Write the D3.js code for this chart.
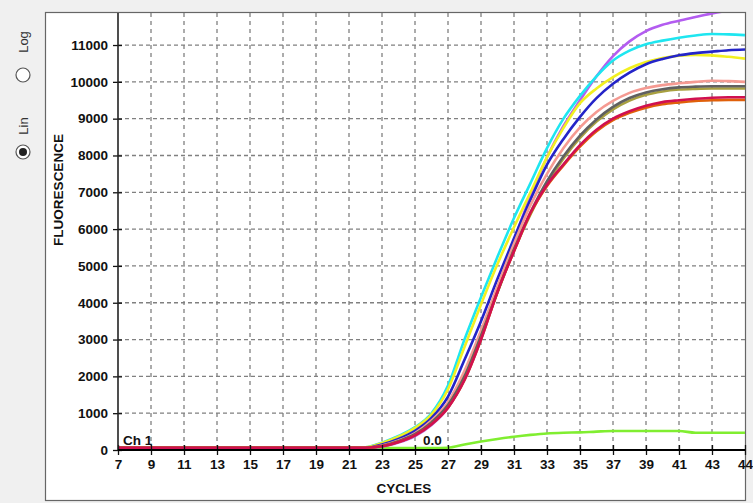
<!DOCTYPE html>
<html>
<head>
<meta charset="utf-8">
<script src="https://cdn.jsdelivr.net/npm/d3@7"></script>
<style>
  html, body { margin: 0; padding: 0; background: #f0f0f0; }
  svg { display: block; font-family: "Liberation Sans", Arial, sans-serif; }
</style>
</head>
<body>
<div id="chart"></div>
<script>
// cycles shown on the x axis (plot runs to the last one)
const cycles = d3.range(7, 46);
const xTickValues = [7, 9, 11, 13, 15, 17, 19, 21, 23, 25, 27, 29, 31, 33, 35, 37, 39, 41, 43, 45];
const xTickLabels = ["7", "9", "11", "13", "15", "17", "19", "21", "23", "25", "27", "29", "31", "33", "35", "37", "39", "41", "43", "44"];
const yTickValues = [0, 1000, 2000, 3000, 4000, 5000, 6000, 7000, 8000, 9000, 10000, 11000];

// fluorescence per cycle, cycles 7..45
const green   = [50,50,50,50,50,50,50,50,50,50,50,50,50,50,50, 50,50,50,50,50,60,150,230,300,360,410,450,470,480,500,515,515,515,515,515,470,470,470,470];
const purple  = [60,60,60,60,60,60,60,60,60,60,60,60,60,60,60, 60,90,200,380,680,1150,1950,3100,4400,5700,6900,7950,8800,9500,10150,10700,11100,11380,11550,11660,11760,11860,11930,11960];
const cyan    = [60,60,60,60,60,60,60,60,60,60,60,60,60,60,60, 70,200,380,620,1000,1750,3000,4150,5250,6300,7250,8200,9000,9620,10150,10580,10850,11020,11120,11200,11260,11300,11290,11270];
const yellow  = [60,60,60,60,60,60,60,60,60,60,60,60,60,60,60, 70,190,360,600,960,1650,2800,3950,5050,6050,7000,7950,8750,9420,9820,10130,10370,10540,10650,10710,10730,10720,10680,10630];
const blue    = [60,60,60,60,60,60,60,60,60,60,60,60,60,60,60, 60,150,300,520,870,1450,2450,3500,4650,5750,6800,7750,8450,9050,9560,9950,10250,10480,10620,10720,10780,10820,10860,10880];
const salmon  = [60,60,60,60,60,60,60,60,60,60,60,60,60,60,60, 60,120,260,460,800,1300,2150,3250,4450,5600,6650,7500,8200,8760,9180,9480,9700,9830,9910,9960,10000,10030,10020,10000];
const olive   = [60,60,60,60,60,60,60,60,60,60,60,60,60,60,60, 60,110,230,420,740,1200,1980,3080,4280,5420,6400,7240,7920,8480,8920,9250,9490,9650,9740,9790,9810,9820,9820,9820];
const grey    = [60,60,60,60,60,60,60,60,60,60,60,60,60,60,60, 60,110,240,430,750,1220,2000,3100,4300,5450,6450,7300,7980,8540,8980,9320,9560,9710,9800,9850,9870,9880,9880,9880];
const orange  = [60,60,60,60,60,60,60,60,60,60,60,60,60,60,60, 60,100,220,400,700,1150,1900,3000,4300,5400,6430,7170,7730,8240,8660,8960,9160,9300,9390,9440,9480,9500,9510,9510];
const crimson = [60,60,60,60,60,60,60,60,60,60,60,60,60,60,60, 60,100,220,400,700,1150,1900,3000,4300,5400,6450,7200,7760,8280,8700,9000,9200,9350,9450,9500,9540,9570,9580,9580];

const series = [
  {values: green,   color: "#80ee30"},
  {values: purple,  color: "#b35cf0"},
  {values: cyan,    color: "#1ee6f0"},
  {values: yellow,  color: "#f2f020"},
  {values: blue,    color: "#2424c8"},
  {values: salmon,  color: "#f59a92"},
  {values: olive,   color: "#a8a040"},
  {values: grey,    color: "#606060"},
  {values: orange,  color: "#e0600a"},
  {values: crimson, color: "#d01050"}
];

const width = 753, height = 503;
const plot = {left: 118, right: 745, top: 13, bottom: 450};

const svg = d3.select("#chart").append("svg")
  .attr("width", width)
  .attr("height", height);

// grey background + white panel
svg.append("rect").attr("width", width).attr("height", height).attr("fill", "#f0f0f0");
svg.append("rect")
  .attr("x", 45.5).attr("y", 12.5)
  .attr("width", 700).attr("height", 488)
  .attr("fill", "#fff")
  .attr("stroke", "#666")
  .attr("stroke-width", 1.2);

const x = d3.scaleLinear().domain([7, 45]).range([plot.left, plot.right]);
const y = d3.scaleLinear().domain([0, 11870]).range([plot.bottom, plot.top]);

// Log / Lin radio buttons
svg.append("text")
  .attr("transform", "translate(28,42) rotate(-90)")
  .attr("text-anchor", "middle")
  .attr("font-size", "13px")
  .attr("fill", "#333")
  .text("Log");
svg.append("circle").attr("cx", 23).attr("cy", 75).attr("r", 7)
  .attr("fill", "#fff").attr("stroke", "#555").attr("stroke-width", 1.2);
svg.append("text")
  .attr("transform", "translate(28,126) rotate(-90)")
  .attr("text-anchor", "middle")
  .attr("font-size", "13px")
  .attr("fill", "#333")
  .text("Lin");
svg.append("circle").attr("cx", 23).attr("cy", 152).attr("r", 7)
  .attr("fill", "#fff").attr("stroke", "#555").attr("stroke-width", 1.2);
svg.append("circle").attr("cx", 23).attr("cy", 152).attr("r", 4).attr("fill", "#222");

// grid
svg.append("g")
  .selectAll("line")
  .data(xTickValues.filter(d => d > 7 && d < 45))
  .enter().append("line")
  .attr("x1", d => x(d)).attr("x2", d => x(d))
  .attr("y1", plot.top).attr("y2", plot.bottom)
  .attr("stroke", "#808080")
  .attr("stroke-width", 1.3)
  .attr("stroke-dasharray", "4,4");
svg.append("g")
  .selectAll("line")
  .data(yTickValues.filter(d => d > 0))
  .enter().append("line")
  .attr("x1", plot.left).attr("x2", plot.right)
  .attr("y1", d => y(d)).attr("y2", d => y(d))
  .attr("stroke", "#808080")
  .attr("stroke-width", 1.3)
  .attr("stroke-dasharray", "4,3");

// curves
svg.append("clipPath").attr("id", "clip")
  .append("rect")
  .attr("x", plot.left).attr("y", plot.top)
  .attr("width", plot.right - plot.left).attr("height", plot.bottom - plot.top);

const line = d3.line()
  .x((d, i) => x(cycles[i]))
  .y(d => y(d))
  .curve(d3.curveMonotoneX);

svg.append("g")
  .attr("clip-path", "url(#clip)")
  .selectAll("path")
  .data(series)
  .enter().append("path")
  .attr("fill", "none")
  .attr("stroke", d => d.color)
  .attr("stroke-width", 2.6)
  .attr("d", d => line(d.values));

// axes
const yAxis = svg.append("g")
  .attr("transform", `translate(${plot.left + 4},0)`)
  .call(d3.axisLeft(y).tickValues(yTickValues).tickFormat(d3.format("d"))
    .tickSizeInner(9).tickSizeOuter(0).tickPadding(5));
const xAxis = svg.append("g")
  .attr("transform", `translate(0,${plot.bottom - 5})`)
  .call(d3.axisBottom(x).tickValues(xTickValues)
    .tickFormat((d, i) => xTickLabels[i])
    .tickSizeInner(10).tickSizeOuter(0).tickPadding(4));
[yAxis, xAxis].forEach(g => {
  g.select(".domain").remove();
  g.selectAll(".tick line").attr("stroke", "#111").attr("stroke-width", 1.3);
  g.selectAll(".tick text")
    .attr("font-size", "13.5px")
    .attr("font-weight", "bold")
    .attr("font-family", "'Liberation Sans', Arial, sans-serif")
    .attr("fill", "#111");
});

svg.append("line")
  .attr("x1", plot.left).attr("x2", plot.left)
  .attr("y1", plot.top).attr("y2", plot.bottom)
  .attr("stroke", "#222").attr("stroke-width", 1.6);
svg.append("line")
  .attr("x1", plot.left).attr("x2", plot.right)
  .attr("y1", plot.bottom).attr("y2", plot.bottom)
  .attr("stroke", "#000").attr("stroke-width", 2);

// labels
svg.append("text")
  .attr("x", 404).attr("y", 493)
  .attr("text-anchor", "middle")
  .attr("font-size", "13.5px")
  .attr("font-weight", "bold")
  .attr("fill", "#111")
  .text("CYCLES");
svg.append("text")
  .attr("transform", "translate(63,190) rotate(-90)")
  .attr("text-anchor", "middle")
  .attr("font-size", "13.5px")
  .attr("font-weight", "bold")
  .attr("fill", "#111")
  .text("FLUORESCENCE");

svg.append("text")
  .attr("x", 123).attr("y", 445)
  .attr("font-size", "13.5px")
  .attr("font-weight", "bold")
  .attr("fill", "#111")
  .text("Ch 1");
svg.append("text")
  .attr("x", 423).attr("y", 445)
  .attr("font-size", "13.5px")
  .attr("font-weight", "bold")
  .attr("fill", "#111")
  .text("0.0");
</script>
</body>
</html>
